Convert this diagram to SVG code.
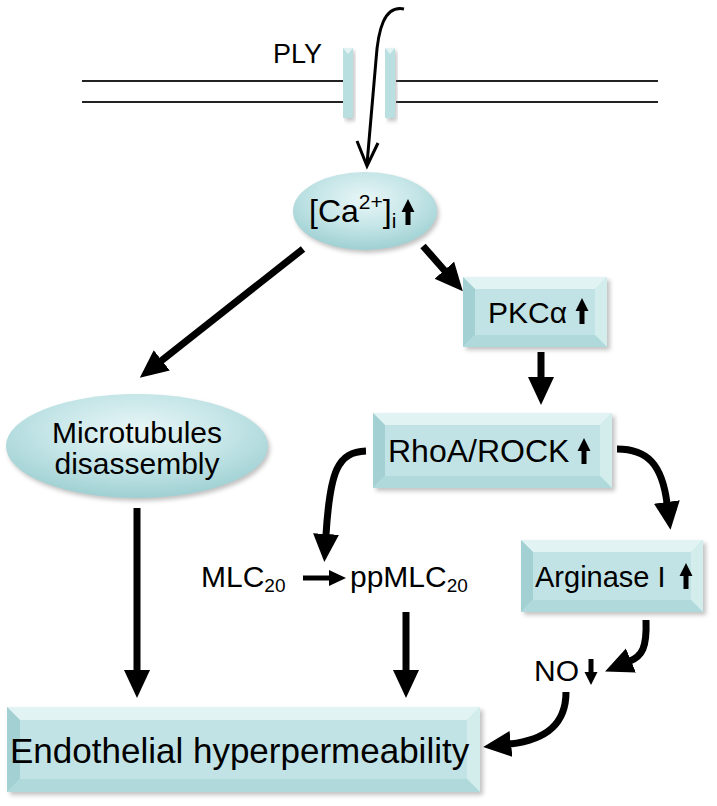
<svg xmlns="http://www.w3.org/2000/svg" width="717" height="806" viewBox="0 0 717 806">
<style>
text{font-family:"Liberation Sans",Arial,sans-serif;fill:#000}
.mem{stroke:#222;stroke-width:2}
.face{fill:#c2e3e5}
.btop{fill:#e2f3f3}
.bleft{fill:#a3d0d3}
.bright{fill:#d3ecec}
.bbot{fill:#b0d9db}
.shadow{fill:#7a7a7a;opacity:.45;filter:url(#blur)}
.conn{fill:none;stroke:#000;stroke-width:7;marker-end:url(#ah)}
.ell{fill:url(#eg)}
</style>
<defs>
<filter id="blur" x="-10%" y="-10%" width="120%" height="130%"><feGaussianBlur stdDeviation="2"/></filter>
<radialGradient id="eg" cx="50%" cy="35%" r="65%">
<stop offset="0" stop-color="#e9f6f7"/>
<stop offset="0.55" stop-color="#c4e5e7"/>
<stop offset="1" stop-color="#9fd0d3"/>
</radialGradient>
<marker id="ah" markerUnits="userSpaceOnUse" markerWidth="30" markerHeight="28" refX="1" refY="13" orient="auto">
<path d="M0,0 L28,13 L0,26 Z" fill="#000"/>
</marker>
<marker id="ahs" markerUnits="userSpaceOnUse" markerWidth="18" markerHeight="18" refX="1" refY="8" orient="auto">
<path d="M0,0 L17,8 L0,16 Z" fill="#000"/>
</marker>
<path id="up" d="M-2.5,0 L2.5,0 L2.5,-13 L6.5,-13 L0,-26 L-6.5,-13 L-2.5,-13 Z" fill="#000"/>
<path id="down" d="M-2.5,-26 L2.5,-26 L2.5,-13 L6.5,-13 L0,0 L-6.5,-13 L-2.5,-13 Z" fill="#000"/>
</defs>
<rect width="717" height="806" fill="#fff"/>

<g id="membrane">
<line class="mem" x1="82" y1="81" x2="343" y2="81"/>
<line class="mem" x1="82" y1="102" x2="343" y2="102"/>
<line class="mem" x1="396" y1="81" x2="658" y2="81"/>
<line class="mem" x1="396" y1="102" x2="658" y2="102"/>
<rect x="345" y="51" width="10" height="70" class="shadow"/>
<rect x="387" y="51" width="10" height="70" class="shadow"/>
<rect x="343" y="48" width="10" height="70" fill="#b9dfe0"/>
<polygon points="343,48 353,48 348,54" fill="#e4f4f4"/>
<rect x="385" y="48" width="10" height="70" fill="#b9dfe0"/>
<polygon points="385,48 395,48 390,54" fill="#e4f4f4"/>
<text x="273" y="63" font-size="27">PLY</text>
</g>

<g id="ca">
<ellipse cx="367" cy="214" rx="72" ry="39" class="shadow"/>
<ellipse cx="365" cy="211" rx="72" ry="39" class="ell"/>
<text x="309" y="222" font-size="32">[Ca<tspan font-size="21" dy="-13">2+</tspan><tspan dy="13">]</tspan><tspan font-size="21" dy="6">i</tspan></text>
<use href="#up" x="408" y="225"/>
</g>

<g id="pkc">
<rect x="466" y="280" width="144" height="70" class="shadow"/>
<rect x="463" y="277" width="144" height="70" class="face"/>
<polygon points="463,277 607,277 595,289 475,289" class="btop"/>
<polygon points="463,277 475,289 475,335 463,347" class="bleft"/>
<polygon points="607,277 607,347 595,335 595,289" class="bright"/>
<polygon points="463,347 475,335 595,335 607,347" class="bbot"/>
<text x="488" y="323" font-size="30">PKCα</text>
<use href="#up" x="582" y="324"/>
</g>

<g id="rhoa">
<rect x="376" y="416" width="239" height="75" class="shadow"/>
<rect x="373" y="413" width="239" height="75" class="face"/>
<polygon points="373,413 612,413 600,425 385,425" class="btop"/>
<polygon points="373,413 385,425 385,476 373,488" class="bleft"/>
<polygon points="612,413 612,488 600,476 600,425" class="bright"/>
<polygon points="373,488 385,476 600,476 612,488" class="bbot"/>
<text x="388" y="462" font-size="32">RhoA/ROCK</text>
<use href="#up" x="584" y="464"/>
</g>

<g id="micro">
<ellipse cx="139" cy="449" rx="131" ry="52" class="shadow"/>
<ellipse cx="137" cy="446" rx="131" ry="52" class="ell"/>
<text x="137" y="443" font-size="30" text-anchor="middle">Microtubules</text>
<text x="137" y="474" font-size="30" text-anchor="middle">disassembly</text>
</g>

<g id="arginase">
<rect x="524" y="543" width="182" height="72" class="shadow"/>
<rect x="521" y="540" width="182" height="72" class="face"/>
<polygon points="521,540 703,540 691,552 533,552" class="btop"/>
<polygon points="521,540 533,552 533,600 521,612" class="bleft"/>
<polygon points="703,540 703,612 691,600 691,552" class="bright"/>
<polygon points="521,612 533,600 691,600 703,612" class="bbot"/>
<text x="535" y="587" font-size="29">Arginase I</text>
<use href="#up" x="686" y="589"/>
</g>

<g id="mlc">
<text x="201" y="587" font-size="30">MLC<tspan font-size="19" dy="5">20</tspan></text>
</g>
<g id="ppmlc">
<text x="350" y="587" font-size="30">ppMLC<tspan font-size="19" dy="5">20</tspan></text>
</g>
<g id="no">
<text x="534" y="681" font-size="30">NO</text>
<use href="#down" x="591" y="685"/>
</g>

<g id="endo">
<rect x="10" y="710" width="473" height="85" class="shadow"/>
<rect x="7" y="707" width="473" height="85" class="face"/>
<polygon points="7,707 480,707 467,720 20,720" class="btop"/>
<polygon points="7,707 20,720 20,779 7,792" class="bleft"/>
<polygon points="480,707 480,792 467,779 467,720" class="bright"/>
<polygon points="7,792 20,779 467,779 480,792" class="bbot"/>
<text x="10" y="763" font-size="35">Endothelial hyperpermeability</text>
</g>

<g id="connectors">
<path d="M404,9 C384,5 378,30 376,60 L367,164" fill="none" stroke="#000" stroke-width="3"/>
<polyline points="357,141 367,166 378,143" fill="none" stroke="#000" stroke-width="3" stroke-linejoin="miter"/>
<path class="conn" d="M303,249 L161,361"/>
<path class="conn" d="M423,246 L445,271"/>
<path class="conn" d="M541,352 L541,378"/>
<path class="conn" d="M137,508 L137,671"/>
<path class="conn" d="M406,612 L406,671"/>
<path class="conn" d="M366,451 C338,452 330,470 326,535"/>
<path class="conn" d="M617,449 C648,449 662,465 667,503"/>
<path class="conn" d="M646,620 C647,648 642,656 630,661"/>
<path class="conn" d="M566,692 C566,725 545,740 510,744"/>
<path d="M303,578 L330,578" fill="none" stroke="#000" stroke-width="5" marker-end="url(#ahs)"/>
</g>
</svg>
